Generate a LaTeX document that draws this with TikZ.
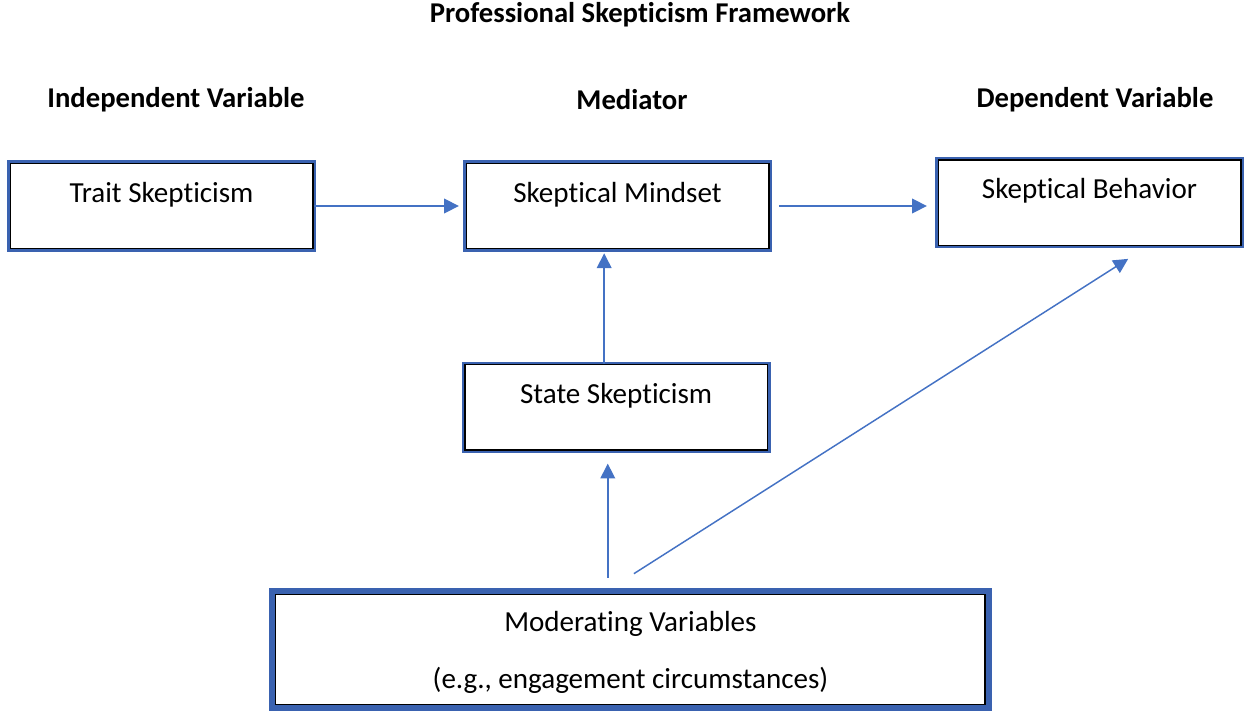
\documentclass[tikz,border=0pt]{standalone}
\usepackage{fontspec}
\setmainfont{Carlito}[Ligatures=NoCommon]
\usetikzlibrary{arrows.meta, positioning}
\definecolor{boxblue}{HTML}{3A62B0}
\definecolor{arrowblue}{HTML}{4472C4}

\begin{document}
\begin{tikzpicture}[x=0.75pt, y=-0.75pt, node distance=342pt,
    box/.style={rectangle, draw=black, line width=1pt, fill=white, preaction={draw=boxblue, line width=4.5pt}, minimum width=227pt, inner xsep=0pt, inner ysep=0pt, text height=29pt, text depth=35pt, font=\fontsize{21.8}{26}\selectfont},
    bigbox/.style={box, preaction={draw=boxblue, line width=10pt}, minimum width=532pt, align=center, text height=70.5pt, text depth=12pt},
    heading/.style={font=\fontsize{21.5}{26}\selectfont\bfseries},
    link/.style={-{Triangle[length=11pt, width=11pt]}, draw=arrowblue, line width=1.1pt}]
    \useasboundingbox (0,0) rectangle (1244,713);

    % Headings
    \node[heading] (title) at (640,15) {Professional Skepticism Framework};
    \node[heading] (indep) at (176,100) {Independent Variable};
    \node[heading] (mediator) at (632,100) {Mediator};
    \node[heading] (dep) at (1095,100) {Dependent Variable};

    % Boxes
    \node[box] (trait) at (161.5,206) {Trait Skepticism};
    \node[box] (mindset) [right of=trait] {Skeptical Mindset};
    \node[box] (behavior) [right of=mindset, xshift=12pt, yshift=2.6pt] {Skeptical Behavior};
    \node[box] (state) [below of=mindset, node distance=151pt, xshift=-1pt] {State Skepticism};
    \node[bigbox] (moderating) [below of=state, node distance=181.5pt, xshift=10.7pt] {Moderating Variables\\[17pt](e.g., engagement circumstances)};

    % Arrows
    \draw[link, shorten >=5pt] (trait) -- (mindset);
    \draw[link, shorten <=7pt, shorten >=8pt] (mindset) -- (mindset -| behavior.west);
    \draw[link, shorten >=3pt] ([xshift=-9pt]state.north) -- ([xshift=-9pt]state.north |- mindset.south);
    \draw[link, shorten >=9.75pt] ([xshift=-17pt, yshift=12pt]moderating.north) -- ([xshift=-17pt]moderating.north |- state.south);
    \draw[link] ([xshift=2.6pt, yshift=15pt]moderating.north) -- ([xshift=29pt, yshift=-9.75pt]behavior.south);

\end{tikzpicture}
\end{document}
